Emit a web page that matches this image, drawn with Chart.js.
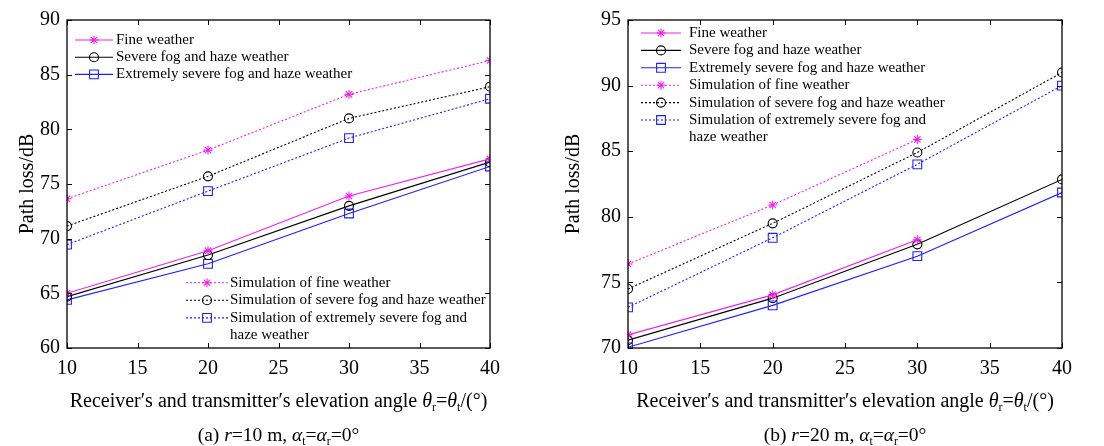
<!DOCTYPE html>
<html>
<head>
<meta charset="utf-8">
<script src="https://cdn.jsdelivr.net/npm/chart.js@4.4.0/dist/chart.umd.min.js"></script>
<style>
  body { margin: 0; background: #fff; }
  #wrap { position: relative; width: 1104px; height: 446px; }
  .box { position: absolute; top: 0; width: 552px; height: 446px; }
</style>
</head>
<body>
<div id="wrap">
  <div class="box" style="left:0"><canvas id="chartA"></canvas></div>
  <div class="box" style="left:552px"><canvas id="chartB"></canvas></div>
</div>
<script>
// 仰角 (x 轴)
const angles = [10, 20, 30, 40];

// (a) r=10 m 实测
const aFine = [65.0, 68.9, 73.9, 77.3];
const aSevere = [64.7, 68.5, 73.0, 77.0];
const aExtreme = [64.4, 67.7, 72.3, 76.6];
// (a) 仿真
const aSimFine = [73.65, 78.1, 83.2, 86.3];
const aSimSevere = [71.15, 75.7, 81.0, 83.9];
const aSimExtreme = [69.45, 74.35, 79.2, 82.8];

// (b) r=20 m 实测 (晴天只到 30°)
const bFine = [71.0, 74.05, 78.25, null];
const bSevere = [70.6, 73.8, 77.9, 82.85];
const bExtreme = [70.05, 73.25, 77.0, 81.85];
// (b) 仿真
const bSimFine = [76.4, 80.9, 85.9, null];
const bSimSevere = [74.5, 79.5, 84.9, 91.0];
const bSimExtreme = [73.1, 78.4, 84.0, 90.0];

// 刻度
const xTicks = [10, 15, 20, 25, 30, 35, 40];
const aYTicks = [60, 65, 70, 75, 80, 85, 90];
const bYTicks = [70, 75, 80, 85, 90, 95];

const seriesNames = [
  'Fine weather',
  'Severe fog and haze weather',
  'Extremely severe fog and haze weather',
  'Simulation of fine weather',
  'Simulation of severe fog and haze weather',
  'Simulation of extremely severe fog and haze weather'
];

const MAGENTA = '#f020f0';
const BLUE = '#2020ff';
const BLACK = '#000';
const SERIF = '"Liberation Serif", "DejaVu Serif", serif';

function toPoints(values) {
  return angles.map((x, i) => ({ x, y: values[i] })).filter(p => p.y !== null);
}

function makeDatasets(sets) {
  const styles = [
    { color: MAGENTA, point: 'star', r: 4.5, dash: [] },
    { color: BLACK, point: 'circle', r: 4.5, dash: [] },
    { color: BLUE, point: 'rect', r: 6.2, dash: [] },
    { color: MAGENTA, point: 'star', r: 4.5, dash: [2, 2] },
    { color: BLACK, point: 'circle', r: 4.5, dash: [2, 2] },
    { color: BLUE, point: 'rect', r: 6.2, dash: [2, 2] }
  ];
  return sets.map((values, i) => ({
    label: seriesNames[i],
    data: toPoints(values),
    borderColor: styles[i].color,
    borderWidth: 1.1,
    borderDash: styles[i].dash,
    pointStyle: styles[i].point,
    pointRadius: styles[i].r,
    pointBorderColor: styles[i].color,
    pointBackgroundColor: 'rgba(0,0,0,0)',
    pointBorderWidth: 1.1,
    tension: 0
  }));
}

// 带上下标的文字
function drawRich(ctx, parts, cx, cy, size) {
  const fontOf = p => (p.italic ? 'italic ' : '') + (p.sub ? size * 0.6 : size) + 'px ' + SERIF;
  let total = 0;
  parts.forEach(p => { ctx.font = fontOf(p); total += ctx.measureText(p.t).width; });
  let x = cx - total / 2;
  ctx.textAlign = 'left';
  ctx.textBaseline = 'alphabetic';
  ctx.fillStyle = '#000';
  const base = cy + size * 0.33;
  parts.forEach(p => {
    ctx.font = fontOf(p);
    ctx.fillText(p.t, x, p.sub ? base + size * 0.2 : base);
    x += ctx.measureText(p.t).width;
  });
}

const xTitleParts = [
  { t: 'Receiver\u2032s and transmitter\u2032s elevation angle ' },
  { t: '\u03b8', italic: true }, { t: 'r', sub: true },
  { t: '=' },
  { t: '\u03b8', italic: true }, { t: 't', sub: true },
  { t: '/(\u00b0)' }
];

function captionParts(tag, r) {
  return [
    { t: '(' + tag + ') ' },
    { t: 'r', italic: true },
    { t: '=' + r + ' m, ' },
    { t: '\u03b1', italic: true }, { t: 't', sub: true },
    { t: '=' },
    { t: '\u03b1', italic: true }, { t: 'r', sub: true },
    { t: '=0\u00b0' }
  ];
}

// 边框、内向刻度、标题、图例
const framePlugin = {
  id: 'frame',
  afterDraw(chart, args, opts) {
    const ctx = chart.ctx;
    const a = chart.chartArea;
    const xs = chart.scales.x;
    const ys = chart.scales.y;
    ctx.save();
    ctx.strokeStyle = '#000';
    ctx.lineWidth = 1.3;
    ctx.setLineDash([]);
    ctx.strokeRect(a.left, a.top, a.right - a.left, a.bottom - a.top);
    ctx.lineWidth = 1;
    const tl = 5;
    ctx.beginPath();
    xs.ticks.forEach(t => {
      const px = Math.round(xs.getPixelForValue(t.value)) + 0.5;
      ctx.moveTo(px, a.bottom); ctx.lineTo(px, a.bottom - tl);
      ctx.moveTo(px, a.top); ctx.lineTo(px, a.top + tl);
    });
    ys.ticks.forEach(t => {
      const py = Math.round(ys.getPixelForValue(t.value)) + 0.5;
      ctx.moveTo(a.left, py); ctx.lineTo(a.left + tl, py);
      ctx.moveTo(a.right, py); ctx.lineTo(a.right - tl, py);
    });
    ctx.stroke();

    // 轴标题与图注
    const cx = (a.left + a.right) / 2;
    drawRich(ctx, xTitleParts, cx, 400, 20);
    drawRich(ctx, captionParts(opts.tag, opts.r), cx, 435, 19.5);

    ctx.save();
    ctx.translate(opts.yTitleX, (a.top + a.bottom) / 2);
    ctx.rotate(-Math.PI / 2);
    ctx.font = '20px ' + SERIF;
    ctx.textAlign = 'center';
    ctx.textBaseline = 'middle';
    ctx.fillStyle = '#000';
    ctx.fillText('Path loss/dB', 0, 0);
    ctx.restore();

    // 图例
    opts.legends.forEach(lg => {
      let y = lg.y;
      lg.items.forEach(idx => {
        const ds = chart.data.datasets[idx];
        ctx.strokeStyle = ds.borderColor;
        ctx.lineWidth = ds.borderWidth;
        ctx.setLineDash(ds.borderDash);
        ctx.beginPath();
        ctx.moveTo(lg.x0, y); ctx.lineTo(lg.x1, y);
        ctx.stroke();
        ctx.setLineDash([]);
        ctx.strokeStyle = ds.pointBorderColor;
        ctx.fillStyle = 'rgba(0,0,0,0)';
        Chart.helpers.drawPoint(ctx, {
          pointStyle: ds.pointStyle, radius: ds.pointRadius, borderWidth: ds.pointBorderWidth, rotation: 0
        }, (lg.x0 + lg.x1) / 2, y);
        ctx.font = '15px ' + SERIF;
        ctx.fillStyle = '#000';
        ctx.textAlign = 'left';
        ctx.textBaseline = 'middle';
        const lines = lg.wrap && lg.wrap[idx] ? lg.wrap[idx] : [ds.label];
        lines.forEach((txt, k) => {
          ctx.fillText(txt, lg.tx, y + k * lg.step);
        });
        y += lg.step * lines.length;
      });
    });
    ctx.restore();
  }
};

function makeChart(id, sets, cfg) {
  return new Chart(document.getElementById(id), {
    type: 'line',
    data: { datasets: makeDatasets(sets) },
    options: {
      responsive: true,
      maintainAspectRatio: false,
      animation: false,
      layout: { padding: { top: cfg.top, right: cfg.right, bottom: 0, left: 0 } },
      plugins: {
        legend: { display: false },
        tooltip: { enabled: false },
        frame: cfg.frame
      },
      scales: {
        x: {
          type: 'linear', min: 10, max: 40,
          afterBuildTicks: s => { s.ticks = xTicks.map(v => ({ value: v })); },
          afterFit: s => { s.height = 446 - cfg.bottom; },
          grid: { display: false, drawTicks: false },
          border: { display: false },
          ticks: { padding: 9, color: '#000', font: { family: SERIF, size: 20 }, maxRotation: 0 }
        },
        y: {
          type: 'linear', min: cfg.ymin, max: cfg.ymax,
          afterBuildTicks: s => { s.ticks = cfg.yTicks.map(v => ({ value: v })); },
          afterFit: s => { s.width = cfg.left; },
          grid: { display: false, drawTicks: false },
          border: { display: false },
          ticks: { padding: 7, color: '#000', font: { family: SERIF, size: 20 } }
        }
      }
    },
    plugins: [framePlugin]
  });
}

makeChart('chartA', [aFine, aSevere, aExtreme, aSimFine, aSimSevere, aSimExtreme], {
  left: 67, right: 62, top: 20, bottom: 348, ymin: 60, ymax: 90, yTicks: aYTicks,
  frame: {
    tag: 'a', r: 10, yTitleX: 28,
    legends: [
      { x0: 75, x1: 113, tx: 116, y: 40, step: 17.2, items: [0, 1, 2] },
      { x0: 186, x1: 228, tx: 230, y: 282.7, step: 17.6, items: [3, 4, 5],
        wrap: { 5: ['Simulation of extremely severe fog and', 'haze weather'] } }
    ]
  }
});

makeChart('chartB', [bFine, bSevere, bExtreme, bSimFine, bSimSevere, bSimExtreme], {
  left: 76, right: 42, top: 20, bottom: 348, ymin: 70, ymax: 95, yTicks: bYTicks,
  frame: {
    tag: 'b', r: 20, yTitleX: 22,
    legends: [
      { x0: 89, x1: 129, tx: 137, y: 33, step: 17.4, items: [0, 1, 2, 3, 4, 5],
        wrap: { 5: ['Simulation of extremely severe fog and', 'haze weather'] } }
    ]
  }
});
</script>
</body>
</html>
